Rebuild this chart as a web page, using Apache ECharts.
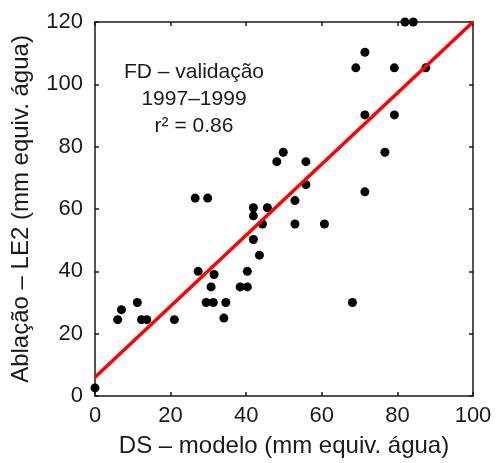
<!DOCTYPE html>
<html>
<head>
<meta charset="utf-8">
<script src="https://cdn.jsdelivr.net/npm/echarts@6/dist/echarts.min.js"></script>
<style>
html,body{margin:0;padding:0;background:#fff;}
#chart{width:496px;height:463px;}
</style>
</head>
<body>
<div id="chart"></div>
<script>
// Data
var xVals = [0, 6, 7, 11.2, 12.3, 13.7, 21, 26.5, 29.8, 27.3, 29.4, 30.7, 31.3, 31.5, 34.1, 34.6, 38.4, 40.3, 40.3, 41.9, 41.9, 41.9, 43.5, 44.3, 45.6, 48.1, 49.8, 52.9, 52.9, 55.8, 55.8, 60.7, 68.1, 69, 71.4, 71.4, 71.4, 76.7, 79.2, 79.2, 82, 84.2, 87.5];
var yVals = [2.6, 24.5, 27.7, 30, 24.5, 24.5, 24.5, 63.5, 63.5, 40, 30, 35, 30, 39, 25, 30, 35, 35, 40, 60.4, 57.8, 50.2, 45.2, 55.2, 60.4, 75.2, 78.2, 62.7, 55.2, 75.2, 67.8, 55.2, 30, 105.3, 110.3, 90.2, 65.5, 78.2, 105.3, 90.2, 120, 120, 105.3];
var fitX = [0, 100];
var fitY = [6, 120];
var xTicks = [0, 20, 40, 60, 80, 100];
var yTicks = [0, 20, 40, 60, 80, 100, 120];
var annotation = ['FD \u2013 valida\u00e7\u00e3o', '1997\u20131999', 'r\u00b2 = 0.86'];
var xTitle = 'DS \u2013 modelo (mm equiv. \u00e1gua)';
var yTitle = 'Abla\u00e7\u00e3o \u2013 LE2 (mm equiv. \u00e1gua)';

var pts = xVals.map(function (x, i) { return [x, yVals[i]]; });
var fit = fitX.map(function (x, i) { return [x, fitY[i]]; });

var FONT = 'Liberation Sans';
var ink = '#1a1a1a';

function axisBase(extra) {
  var base = {
    type: 'value',
    axisLine: { show: true, onZero: false, lineStyle: { color: ink, width: 1.5 } },
    axisTick: { show: true, inside: true, length: 4, lineStyle: { color: ink, width: 1.5 } },
    splitLine: { show: false }
  };
  for (var k in extra) base[k] = extra[k];
  return base;
}

var chart = echarts.init(document.getElementById('chart'), null, { renderer: 'canvas' });
chart.setOption({
  animation: false,
  backgroundColor: '#fff',
  grid: { left: 95, right: 23, top: 22, bottom: 62 },
  xAxis: [
    axisBase({
      position: 'bottom', min: 0, max: 100, interval: 20,
      name: xTitle, nameLocation: 'middle', nameGap: 38,
      nameTextStyle: { fontFamily: FONT, fontSize: 24, color: ink },
      axisLabel: { fontFamily: FONT, fontSize: 22, color: ink, margin: 9,
        formatter: function (v) { return xTicks.indexOf(v) >= 0 ? String(v) : ''; } }
    }),
    axisBase({ position: 'top', min: 0, max: 100, interval: 20, axisLabel: { show: false } })
  ],
  yAxis: [
    axisBase({
      position: 'left', min: 0, max: 120, interval: 20,
      name: yTitle, nameLocation: 'middle', nameGap: 62,
      nameTextStyle: { fontFamily: FONT, fontSize: 24, color: ink },
      axisLabel: { fontFamily: FONT, fontSize: 22, color: ink, margin: 12,
        formatter: function (v) { return yTicks.indexOf(v) >= 0 ? String(v) : ''; } }
    }),
    axisBase({ position: 'right', min: 0, max: 120, interval: 20, axisLabel: { show: false } })
  ],
  graphic: [
    { type: 'text', x: 194, y: 62, style: { text: annotation[0], font: '21px "Liberation Sans"', fill: ink, textAlign: 'center', textVerticalAlign: 'top' } },
    { type: 'text', x: 194, y: 89, style: { text: annotation[1], font: '21px "Liberation Sans"', fill: ink, textAlign: 'center', textVerticalAlign: 'top' } },
    { type: 'text', x: 194, y: 116, style: { text: annotation[2], font: '21px "Liberation Sans"', fill: ink, textAlign: 'center', textVerticalAlign: 'top' } }
  ],
  series: [
    {
      type: 'scatter', xAxisIndex: 0, yAxisIndex: 0, data: pts, clip: false,
      symbol: 'circle', symbolSize: 9, itemStyle: { color: '#000', opacity: 1 }, z: 2
    },
    {
      type: 'line', xAxisIndex: 0, yAxisIndex: 0, data: fit, showSymbol: false,
      lineStyle: { color: '#ff0000', width: 3.5 }, z: 3
    }
  ]
});
</script>
</body>
</html>
